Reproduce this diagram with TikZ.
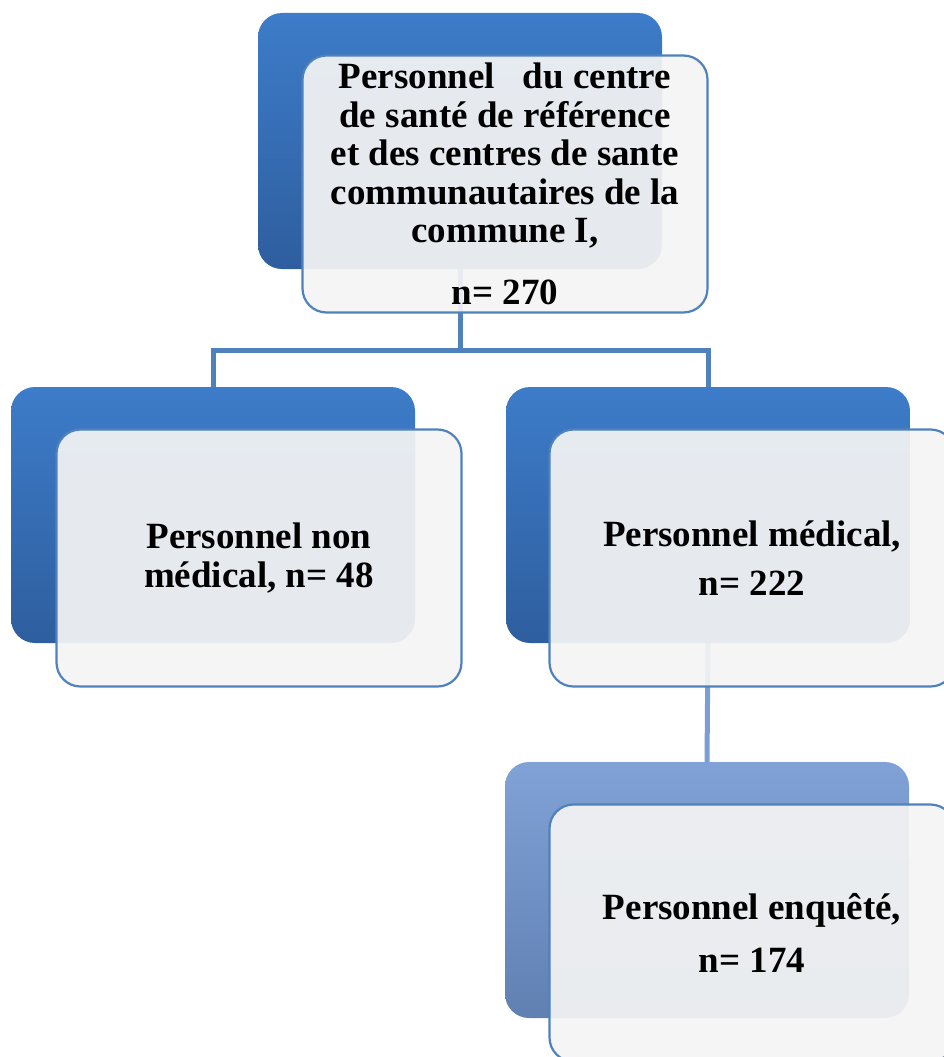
\documentclass[tikz,border=0pt]{standalone}
\usepackage{fontspec}
\setmainfont{Liberation Serif}
\usepackage{tikz}
\usetikzlibrary{positioning}
\definecolor{deepblue}{HTML}{3D7CC9}
\definecolor{deepbluedark}{HTML}{2E5E9E}
\definecolor{paleblue}{HTML}{81A2D6}
\definecolor{palebluedark}{HTML}{6080B2}
\definecolor{edgeblue}{HTML}{4F81BD}
\definecolor{cardgray}{HTML}{F4F4F4}

\begin{document}
\begin{tikzpicture}[
  x=1pt, y=-1pt,
  back/.style={rounded corners=24pt, minimum width=404pt, minimum height=256pt, inner sep=0pt},
  backbox/.style={back, top color=deepblue, bottom color=deepbluedark},
  backpale/.style={back, top color=paleblue, bottom color=palebluedark},
  card/.style={rounded corners=24pt, minimum width=405pt, minimum height=257pt, align=center,
    draw=edgeblue, line width=2.2pt, fill=cardgray, fill opacity=0.93, text opacity=1,
    font=\bfseries\fontsize{37}{38.5}\selectfont},
  link/.style={draw=edgeblue, line width=5pt},
  linkpale/.style={draw=paleblue!90!edgeblue, line width=5pt}
]
\useasboundingbox (0,0) rectangle (944,1057);
\clip (0,0) rectangle (944,1057);

% back panels
\node[backbox] (topback) at (460,141) {};
\node[backbox] (nonmedback) at (213,515) {};
\node[backbox] (medback) at (708,515) {};
\node[backpale] (enqback) at (707,890) {};

% connectors
\coordinate (split) at (460,350);
\draw[link] (topback.south) -- (split);
\draw[link] (nonmedback.north) |- (split) -| (medback.north);
\draw[linkpale] (medback.south) -- (enqback.north);

% front cards
\node[card] (topfront) at ([shift={(45,43)}]topback) {Personnel\ \ \ du centre\\de santé de référence\\et des centres de sante\\communautaires de la\\commune I,\\[23pt]n= 270};
\node[card] (nonmedfront) at ([shift={(46,43)}]nonmedback) {Personnel non\\médical, n= 48};
\node[card] (medfront) at ([shift={(44,43)}]medback) {Personnel médical,\\[10pt]n= 222};
\node[card] (enqfront) at ([shift={(45,43)}]enqback) {Personnel enquêté,\\[14pt]n= 174};
\end{tikzpicture}
\end{document}
